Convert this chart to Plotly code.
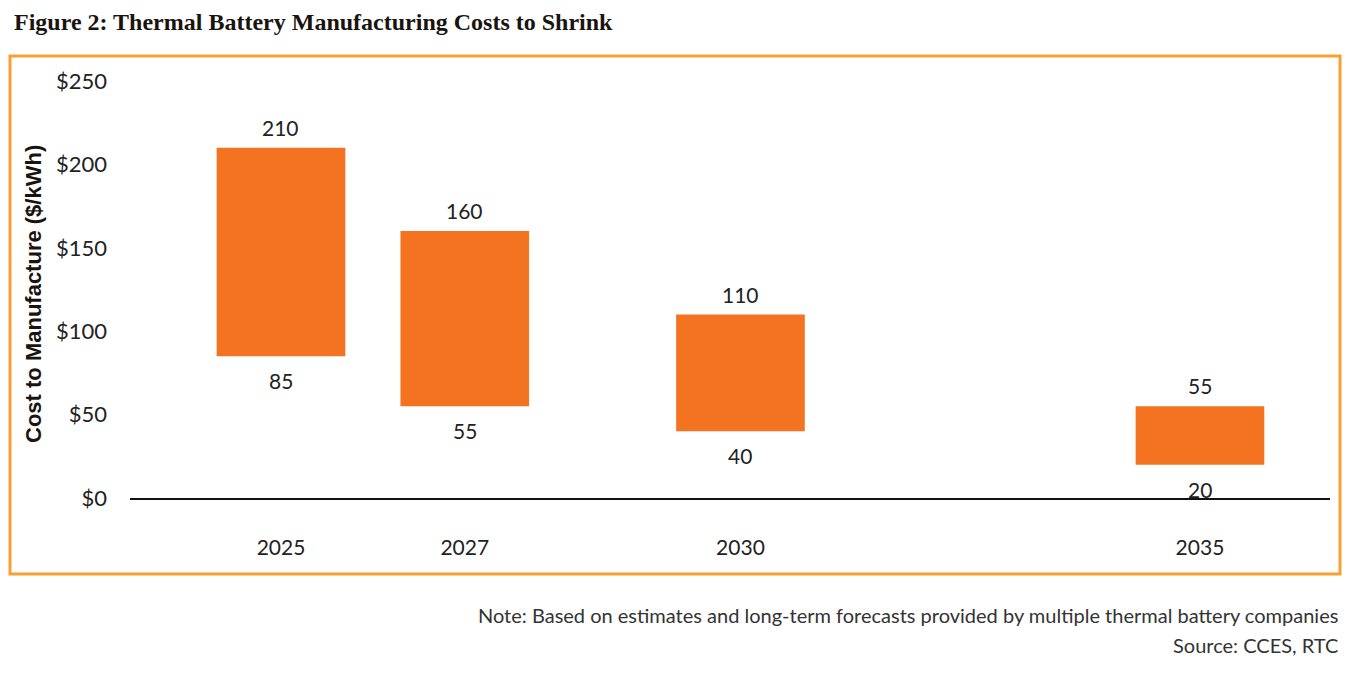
import plotly.graph_objects as go

years = [2025, 2027, 2030, 2035]
low_cost = [85, 55, 40, 20]
high_cost = [210, 160, 110, 55]
y_tick_vals = [0, 50, 100, 150, 200, 250]
y_tick_text = ["$0", "$50", "$100", "$150", "$200", "$250"]

title_text = "Figure 2: Thermal Battery Manufacturing Costs to Shrink"
y_title = "Cost to Manufacture ($/kWh)"
note_text = "Note: Based on estimates and long-term forecasts provided by multiple thermal battery companies"
source_text = "Source: CCES, RTC"

BAR = "#F37321"
BORDER = "#F7A035"
TXT = "#222222"
FONT = "Lato"

# plot area in screen pixels (page has an 8px body offset)
PX0, PX1, PY0, PY1 = 130, 1330, 81, 498


def px(x):
    return (x - PX0) / (PX1 - PX0)


def py(y):
    return (PY1 - y) / (PY1 - PY0)


fig = go.Figure()
fig.add_trace(go.Bar(
    x=years,
    y=[h - l for h, l in zip(high_cost, low_cost)],
    base=low_cost,
    width=1.4,
    marker=dict(color=BAR, line=dict(width=0)),
    hoverinfo="skip",
    showlegend=False,
))

annotations = []
for yr, lo, hi in zip(years, low_cost, high_cost):
    annotations.append(dict(x=yr, y=hi, xref="x", yref="y", text=str(hi), showarrow=False,
                            yanchor="bottom", yshift=6, font=dict(family=FONT, size=21, color=TXT)))
    annotations.append(dict(x=yr, y=lo, xref="x", yref="y", text=str(lo), showarrow=False,
                            yanchor="top", yshift=-10, font=dict(family=FONT, size=21, color=TXT)))

annotations += [
    dict(x=px(12), y=py(22), xref="paper", yref="paper", xanchor="left", yanchor="middle",
         text="<b>" + title_text + "</b>", showarrow=False,
         font=dict(family="Liberation Serif", size=24, color="#1a1410")),
    dict(x=px(33), y=py(294), xref="paper", yref="paper", xanchor="center", yanchor="middle",
         text="<b>" + y_title + "</b>", textangle=-90, showarrow=False,
         font=dict(family="Liberation Sans", size=22, color="#1a1410")),
    dict(x=px(1340), y=py(615), xref="paper", yref="paper", xanchor="right", yanchor="middle",
         text=note_text, showarrow=False, font=dict(family=FONT, size=20, color="#333333")),
    dict(x=px(1340), y=py(645), xref="paper", yref="paper", xanchor="right", yanchor="middle",
         text=source_text, showarrow=False, font=dict(family=FONT, size=20, color="#333333")),
]

W, H = 1338, 664
OFF = 8
fig.update_layout(
    width=W, height=H,
    margin=dict(l=PX0 - OFF, r=W - (PX1 - OFF), t=PY0 - OFF, b=H - (PY1 - OFF)),
    paper_bgcolor="white", plot_bgcolor="white",
    annotations=annotations,
    shapes=[dict(type="rect", xref="paper", yref="paper",
                 x0=px(10), x1=px(1340), y0=py(574), y1=py(56),
                 line=dict(color=BORDER, width=3), fillcolor="rgba(0,0,0,0)", layer="below")],
    xaxis=dict(range=[2023.357, 2036.415], tickvals=years, ticktext=[str(y) for y in years],
               showgrid=False, zeroline=False, showline=True, linecolor="#111111", linewidth=1.5,
               ticks="", ticklabelstandoff=30, tickfont=dict(family=FONT, size=21, color=TXT)),
    yaxis=dict(range=[0, 250], tickvals=y_tick_vals, ticktext=y_tick_text,
               showgrid=False, zeroline=False, showline=False, ticks="",
               ticklabelstandoff=22, tickfont=dict(family=FONT, size=22, color=TXT)),
)

fig.write_html("out.html")
